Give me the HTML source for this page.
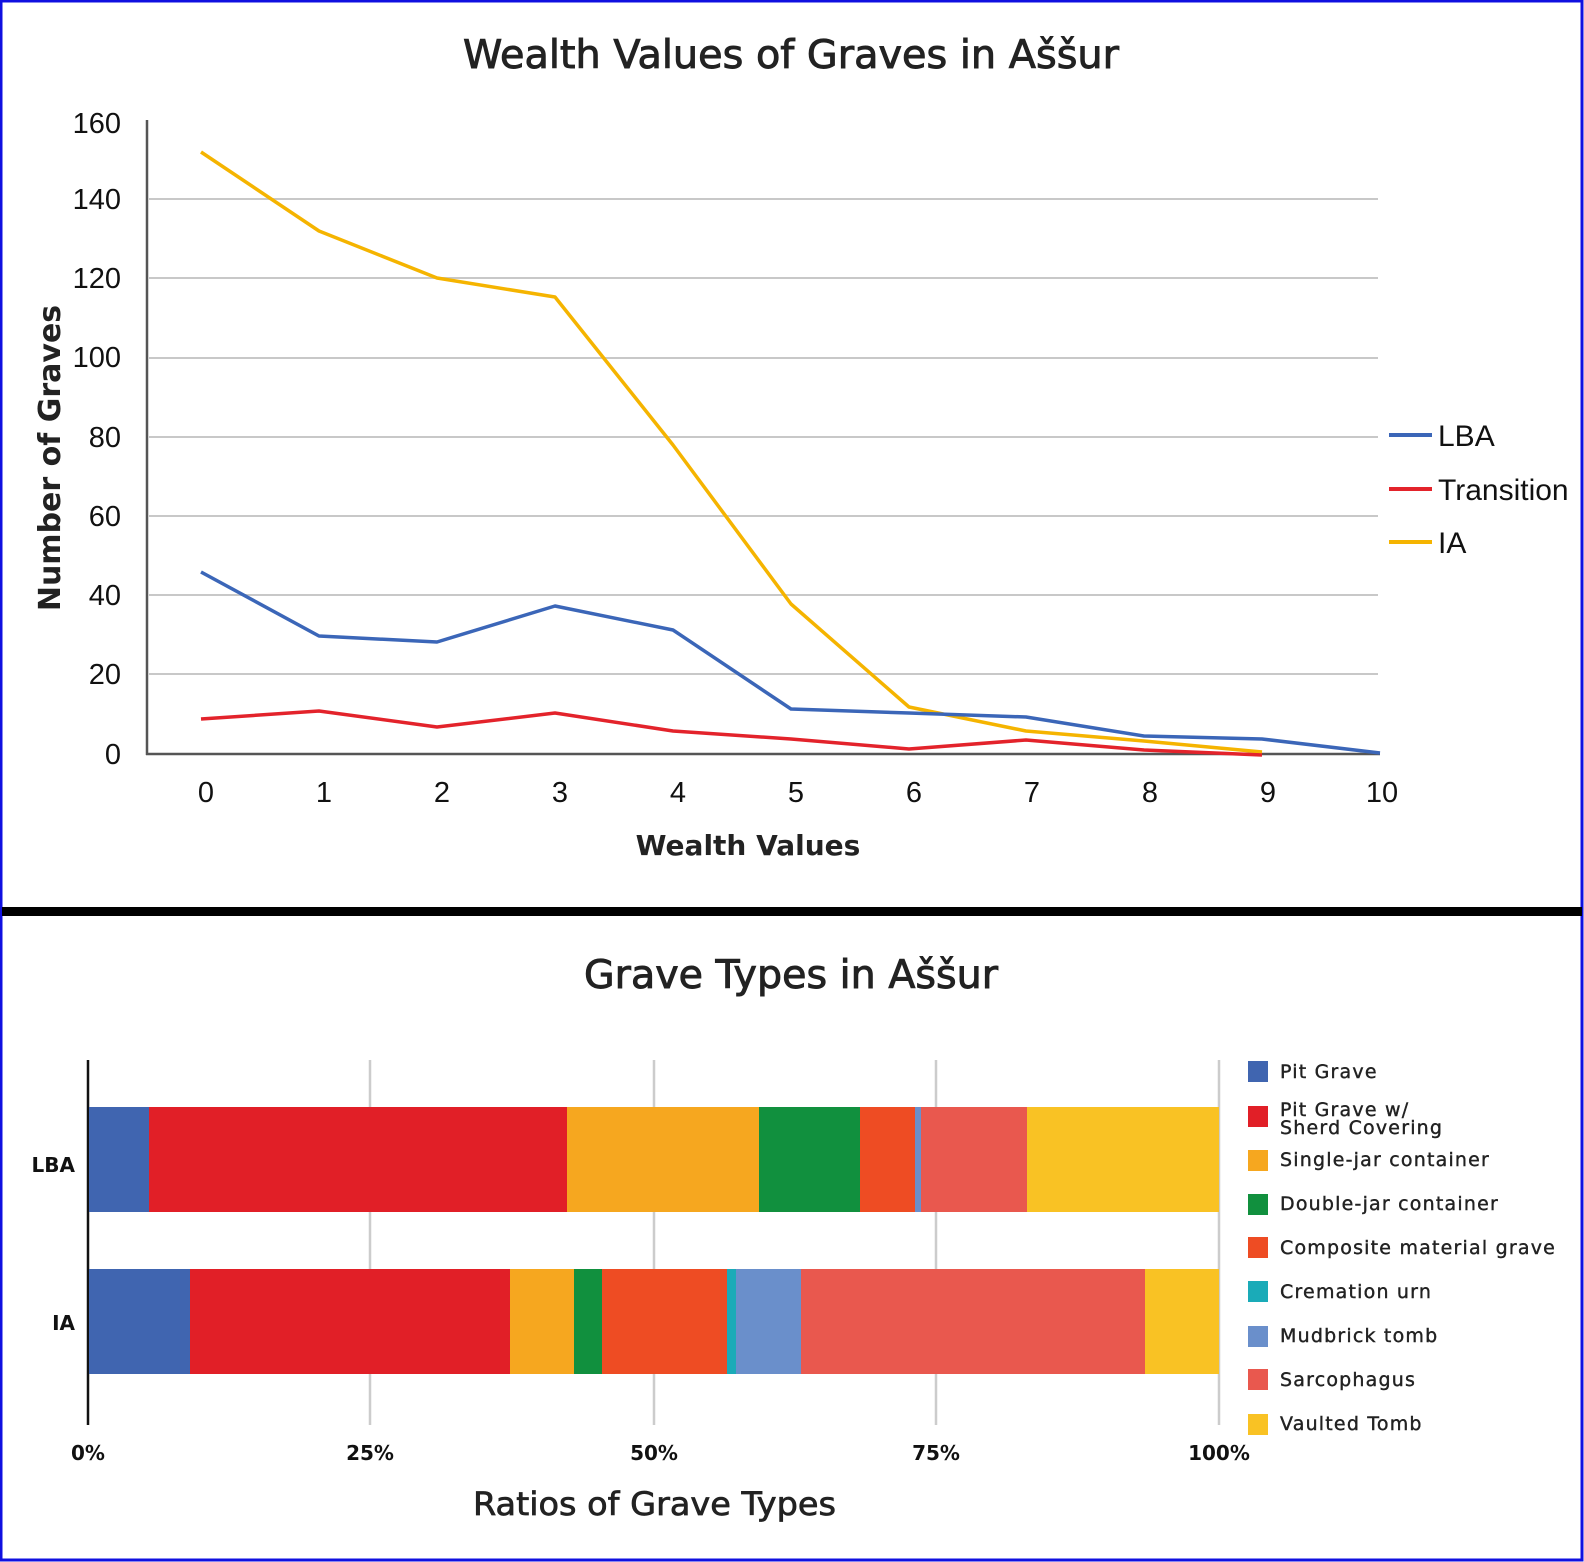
<!DOCTYPE html>
<html><head><meta charset="utf-8"><style>
html,body{margin:0;padding:0;background:#fff}
svg{display:block}
</style></head><body>
<svg width="1584" height="1562" viewBox="0 0 1584 1562" xmlns="http://www.w3.org/2000/svg">
<rect x="0" y="0" width="1584" height="1562" fill="#fff"/>
<rect x="1" y="1" width="1581" height="1559" fill="none" stroke="#1010e0" stroke-width="3"/>
<rect x="2" y="907" width="1580" height="9" fill="#000"/>

<!-- TOP CHART -->
<text x="463" y="68" textLength="656" lengthAdjust="spacingAndGlyphs" font-family="DejaVu Sans, sans-serif" font-size="39" fill="#222" stroke="#222" stroke-width="0.9">Wealth Values of Graves in Aššur</text>
<g stroke="#c8c8c8" stroke-width="2">
<line x1="149" x2="1378" y1="199" y2="199"/>
<line x1="149" x2="1378" y1="278" y2="278"/>
<line x1="149" x2="1378" y1="358" y2="358"/>
<line x1="149" x2="1378" y1="437" y2="437"/>
<line x1="149" x2="1378" y1="516" y2="516"/>
<line x1="149" x2="1378" y1="595" y2="595"/>
<line x1="149" x2="1378" y1="674" y2="674"/>
</g>
<line x1="147" y1="120" x2="147" y2="755" stroke="#555" stroke-width="2.5"/>
<line x1="146" y1="754" x2="1380" y2="754" stroke="#555" stroke-width="2.5"/>
<g font-family="Liberation Sans, sans-serif" font-size="29" fill="#111" text-anchor="end">
<text x="121" y="133">160</text><text x="121" y="209">140</text><text x="121" y="288">120</text>
<text x="121" y="367">100</text><text x="121" y="447">80</text><text x="121" y="526">60</text>
<text x="121" y="605">40</text><text x="121" y="684">20</text><text x="121" y="764">0</text>
</g>
<g font-family="Liberation Sans, sans-serif" font-size="29" fill="#111" text-anchor="middle">
<text x="206" y="802">0</text><text x="324" y="802">1</text><text x="442" y="802">2</text>
<text x="560" y="802">3</text><text x="678" y="802">4</text><text x="796" y="802">5</text>
<text x="914" y="802">6</text><text x="1032" y="802">7</text><text x="1150" y="802">8</text>
<text x="1268" y="802">9</text><text x="1382" y="802">10</text>
</g>
<text x="748" y="855" text-anchor="middle" font-family="DejaVu Sans, sans-serif" font-weight="bold" font-size="28" fill="#222">Wealth Values</text>
<text transform="translate(60,458) rotate(-90)" text-anchor="middle" font-family="DejaVu Sans, sans-serif" font-weight="bold" font-size="30" fill="#222">Number of Graves</text>

<g fill="none" stroke-width="3.5" stroke-linejoin="round">
<polyline stroke="#f5b400" points="201,152 319,231 437,278 555,297 673,445 791,604 909,707 1026,731 1144,741 1262,752"/>
<polyline stroke="#3b66b8" points="201,572 319,636 437,642 555,606 673,630 791,709 909,713 1026,717 1144,736 1262,739 1380,753"/>
<polyline stroke="#e3232b" points="201,719 319,711 437,727 555,713 673,731 791,739 909,749 1026,740 1144,750 1262,755"/>
</g>
<g stroke-width="4">
<line x1="1389" x2="1432" y1="435" y2="435" stroke="#3b66b8"/>
<line x1="1389" x2="1432" y1="489" y2="489" stroke="#e3232b"/>
<line x1="1389" x2="1432" y1="542" y2="542" stroke="#f5b400"/>
</g>
<g font-family="Liberation Sans, sans-serif" font-size="30" fill="#111">
<text x="1438" y="446">LBA</text><text x="1438" y="500">Transition</text><text x="1438" y="553">IA</text>
</g>

<!-- BOTTOM CHART -->
<text x="584" y="988" textLength="414" lengthAdjust="spacingAndGlyphs" font-family="DejaVu Sans, sans-serif" font-size="39" fill="#222" stroke="#222" stroke-width="0.9">Grave Types in Aššur</text>
<g stroke="#ccc" stroke-width="2.5">
<line x1="370" x2="370" y1="1060" y2="1425"/>
<line x1="654" x2="654" y1="1060" y2="1425"/>
<line x1="936" x2="936" y1="1060" y2="1425"/>
<line x1="1219" x2="1219" y1="1060" y2="1425"/>
</g>
<line x1="88" y1="1060" x2="88" y2="1425" stroke="#111" stroke-width="2.5"/>
<g>
<rect x="89" y="1107" width="60" height="105" fill="#4065b0"/>
<rect x="149" y="1107" width="418" height="105" fill="#e11f27"/>
<rect x="567" y="1107" width="192" height="105" fill="#f6a71f"/>
<rect x="759" y="1107" width="101" height="105" fill="#11903e"/>
<rect x="860" y="1107" width="55" height="105" fill="#ee4c23"/>
<rect x="915" y="1107" width="6" height="105" fill="#6a8fcb"/>
<rect x="921" y="1107" width="106" height="105" fill="#e9584e"/>
<rect x="1027" y="1107" width="192" height="105" fill="#f9c224"/>
</g>
<g>
<rect x="89" y="1269" width="101" height="105" fill="#4065b0"/>
<rect x="190" y="1269" width="320" height="105" fill="#e11f27"/>
<rect x="510" y="1269" width="64" height="105" fill="#f6a71f"/>
<rect x="574" y="1269" width="28" height="105" fill="#11903e"/>
<rect x="602" y="1269" width="125" height="105" fill="#ee4c23"/>
<rect x="727" y="1269" width="9" height="105" fill="#1aabb8"/>
<rect x="736" y="1269" width="65" height="105" fill="#6a8fcb"/>
<rect x="801" y="1269" width="344" height="105" fill="#e9584e"/>
<rect x="1145" y="1269" width="74" height="105" fill="#f9c224"/>
</g>
<g font-family="DejaVu Sans, sans-serif" font-weight="bold" font-size="20" fill="#111" text-anchor="end">
<text x="75" y="1172">LBA</text><text x="75" y="1330">IA</text>
</g>
<g font-family="DejaVu Sans, sans-serif" font-weight="bold" font-size="20" fill="#111" text-anchor="middle">
<text x="88" y="1460">0%</text><text x="370" y="1460">25%</text><text x="654" y="1460">50%</text>
<text x="936" y="1460">75%</text><text x="1219" y="1460">100%</text>
</g>
<text x="473" y="1515" textLength="363" lengthAdjust="spacingAndGlyphs" font-family="DejaVu Sans, sans-serif" font-size="32" fill="#222" stroke="#222" stroke-width="0.7">Ratios of Grave Types</text>

<g>
<rect x="1248" y="1061" width="20" height="21" fill="#4065b0"/>
<rect x="1248" y="1106" width="20" height="21" fill="#e11f27"/>
<rect x="1248" y="1150" width="20" height="21" fill="#f6a71f"/>
<rect x="1248" y="1194" width="20" height="21" fill="#11903e"/>
<rect x="1248" y="1237" width="20" height="21" fill="#ee4c23"/>
<rect x="1248" y="1281" width="20" height="21" fill="#1aabb8"/>
<rect x="1248" y="1326" width="20" height="21" fill="#6a8fcb"/>
<rect x="1248" y="1369" width="20" height="21" fill="#e9584e"/>
<rect x="1248" y="1414" width="20" height="21" fill="#f9c224"/>
</g>
<g font-family="DejaVu Sans, sans-serif" font-size="19" fill="#222" stroke="#222" stroke-width="0.4" letter-spacing="1.2">
<text x="1280" y="1078">Pit Grave</text>
<text x="1280" y="1116">Pit Grave w/</text>
<text x="1280" y="1134">Sherd Covering</text>
<text x="1280" y="1166">Single-jar container</text>
<text x="1280" y="1210">Double-jar container</text>
<text x="1280" y="1254">Composite material grave</text>
<text x="1280" y="1298">Cremation urn</text>
<text x="1280" y="1342">Mudbrick tomb</text>
<text x="1280" y="1386">Sarcophagus</text>
<text x="1280" y="1430">Vaulted Tomb</text>
</g>
</svg>
</body></html>
